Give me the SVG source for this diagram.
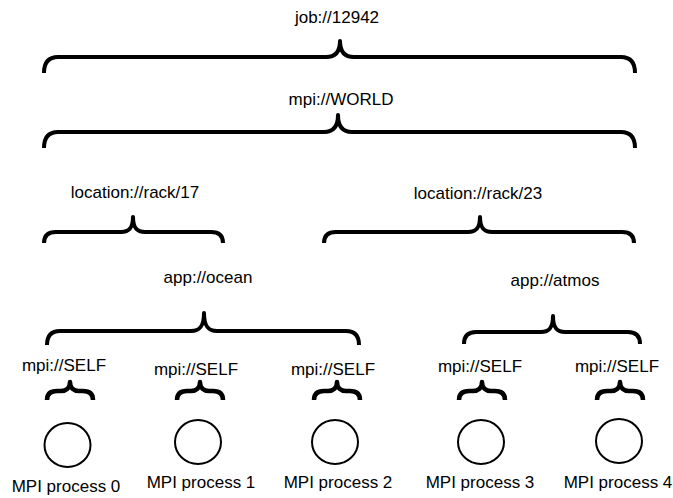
<svg xmlns="http://www.w3.org/2000/svg" width="673" height="498" viewBox="0 0 673 498">
<style>
.lbl{font-family:"Liberation Sans",Arial,sans-serif;font-size:17px;fill:#000;text-anchor:middle}
.br{fill:none;stroke:#000;stroke-width:4;stroke-linecap:butt;stroke-linejoin:round}
.sb{fill:none;stroke:#000;stroke-width:4.5;stroke-linecap:butt;stroke-linejoin:round}
.proc{fill:#fff;stroke:#000;stroke-width:2}
</style>
<rect width="673" height="498" fill="#fff"/>
<g id="connectors">
<path id="brace-job" class="br" d="M44,73 Q44,57 58,57 L326,57 C335,57 340,52 340,41 C340,52 345,57 354,57 L621,57 Q635,57 635,73"/>
<path id="brace-world" class="br" d="M44,148 Q44,132 58,132 L324,132 C333,132 338,127 338,115 C338,127 343,132 352,132 L621,132 Q635,132 635,148"/>
<path id="brace-rack17" class="br" d="M44,243 Q44,232 56,232 L121,232 C129,232 133,228 133,217 C133,228 137,232 145,232 L211,232 Q223,232 223,243"/>
<path id="brace-rack23" class="br" d="M324,243 Q324,232 336,232 L468,232 C476,232 480,228 480,217 C480,228 484,232 492,232 L622,232 Q634,232 634,243"/>
<path id="brace-ocean" class="br" d="M47,345 Q47,331 60,331 L191,331 C200,331 204,326 204,313 C204,326 208,331 217,331 L346,331 Q359,331 359,345"/>
<path id="brace-atmos" class="br" d="M464,344 Q464,332 476,332 L541,332 C549,332 553,328 553,316 C553,328 557,332 565,332 L628,332 Q640,332 640,344"/>
<path class="sb" d="M47,400 C47,394 50,391 57,391 L61,391 C66,391 70,388 70,382 C70,388 74,391 79,391 L83,391 C90,391 93,394 93,400"/>
<path class="sb" d="M177,400 C177,394 180,391 187,391 L191,391 C196,391 200,388 200,382 C200,388 204,391 209,391 L213,391 C220,391 223,394 223,400"/>
<path class="sb" d="M314,400 C314,394 317,391 324,391 L328,391 C333,391 337,388 337,382 C337,388 341,391 346,391 L350,391 C357,391 360,394 360,400"/>
<path class="sb" d="M459,400 C459,394 462,391 469,391 L473,391 C478,391 482,388 482,382 C482,388 486,391 491,391 L495,391 C502,391 505,394 505,400"/>
<path class="sb" d="M597,400 C597,394 600,391 607,391 L611,391 C616,391 620,388 620,382 C620,388 624,391 629,391 L633,391 C640,391 643,394 643,400"/>
</g>
<g id="job"><text class="lbl" x="337" y="23">job://12942</text></g>
<g id="world"><text class="lbl" x="341" y="105">mpi://WORLD</text></g>
<g id="rack17"><text class="lbl" x="135" y="198">location://rack/17</text></g>
<g id="rack23"><text class="lbl" x="478" y="199">location://rack/23</text></g>
<g id="ocean"><text class="lbl" x="208" y="283">app://ocean</text></g>
<g id="atmos"><text class="lbl" x="555" y="286">app://atmos</text></g>
<g id="self0"><text class="lbl" x="64" y="371">mpi://SELF</text></g>
<g id="self1"><text class="lbl" x="196" y="375">mpi://SELF</text></g>
<g id="self2"><text class="lbl" x="333" y="375">mpi://SELF</text></g>
<g id="self3"><text class="lbl" x="480" y="372">mpi://SELF</text></g>
<g id="self4"><text class="lbl" x="617" y="372">mpi://SELF</text></g>
<g id="p0"><ellipse class="proc" cx="67.5" cy="445" rx="23" ry="22"/><text class="lbl" x="66" y="492">MPI process 0</text></g>
<g id="p1"><ellipse class="proc" cx="198" cy="442" rx="23" ry="22"/><text class="lbl" x="201" y="488">MPI process 1</text></g>
<g id="p2"><ellipse class="proc" cx="335" cy="442" rx="23" ry="22"/><text class="lbl" x="338" y="488">MPI process 2</text></g>
<g id="p3"><ellipse class="proc" cx="481" cy="442" rx="23" ry="22"/><text class="lbl" x="480" y="488">MPI process 3</text></g>
<g id="p4"><ellipse class="proc" cx="619" cy="441" rx="23" ry="22"/><text class="lbl" x="618" y="488">MPI process 4</text></g>
</svg>
